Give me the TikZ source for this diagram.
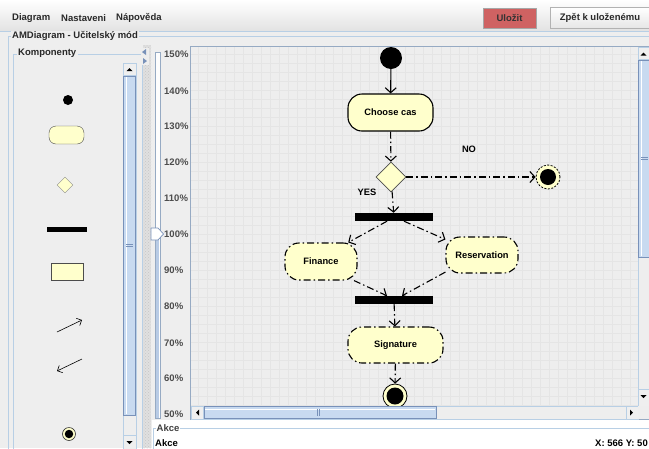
\documentclass[tikz,border=0pt]{standalone}
\usepackage{fontspec}
\setmainfont{Liberation Sans}
\usetikzlibrary{arrows.meta,shapes.geometric,patterns}
\definecolor{bg}{RGB}{238,238,238}
\definecolor{nodefill}{RGB}{255,255,204}
\definecolor{gridc}{RGB}{229,229,229}
\definecolor{bordc}{RGB}{184,207,229}
\definecolor{frame}{RGB}{150,170,195}
\definecolor{thumbc}{RGB}{200,218,240}
\definecolor{thumbb}{RGB}{120,145,185}
\definecolor{savec}{RGB}{207,98,98}
\definecolor{txt}{RGB}{40,40,40}
\begin{document}
\begin{tikzpicture}[x=1pt,y=-1pt,
  myui/.style={font=\fontsize{9.5}{11}\selectfont\bfseries, text=txt, inner sep=0pt},
  mylbl/.style={font=\fontsize{9.3}{11}\selectfont\bfseries, text=black, inner sep=0pt},
  dashdot/.style={dash pattern=on 7pt off 3pt on 1.5pt off 3pt},
  act/.style={draw=black, line width=1.1pt, fill=nodefill, rounded corners=14pt, mylbl, minimum height=37pt},
  flow/.style={line width=1.1pt, dashdot, -{Straight Barb[length=5pt,width=11pt]}},
  forkbar/.style={fill=black, minimum width=78pt, minimum height=8pt, inner sep=0pt},
  blackdot/.style={circle, fill=black, inner sep=0pt},
  thumb/.style={draw=thumbb, fill=thumbc, line width=.6pt},
  sbtrack/.style={draw=bordc, fill=bg, line width=.6pt},
  sbbtn/.style={draw=bordc, fill=bg!95!white, line width=.6pt},
  tri/.style={fill=black}
]
\useasboundingbox (0,0) rectangle (649,448);
% background
\fill[bg] (0,0) rectangle (649,448);
\shade[top color=white, bottom color=bg!95!black] (0,0) rectangle (649,31);
\draw[bordc, line width=.8pt] (0,31.5) -- (649,31.5);

% menu
\node[myui, anchor=west] (mDiagram) at (12,18) {Diagram};
\node[myui, anchor=west] (mNast) at (61,18) {Nastaveni};
\node[myui, anchor=west] (mNap) at (116,18) {Nápověda};
\node[myui, draw=gray!70, fill=savec, minimum width=53pt, minimum height=20pt, text=black!80] (bSave) at (509.5,18) {Uložit};
\node[myui, draw=gray!60, top color=white, bottom color=gray!20, minimum width=100pt, minimum height=21pt] (bBack) at (600,18) {Zpět k uloženému};

% AMDiagram titled border
\draw[bordc, line width=.8pt] (8,460) -- (8,36) -- (660,36);
\node[myui, fill=bg, inner xsep=1.5pt, anchor=west] (tAM) at (10.5,36) {AMDiagram - Učitelský mód};

% Komponenty panel
\draw[bordc, line width=.8pt] (13,460) -- (13,54) -- (142,54) -- (142,460);
\node[myui, fill=bg, inner xsep=1.5pt, anchor=west] (tKomp) at (16.5,53.5) {Komponenty};

% component palette
\node[blackdot, minimum size=10pt] (cdot) at (68,100) {};
\node[draw=black!70, fill=nodefill, rounded corners=7pt, minimum width=35pt, minimum height=18pt, inner sep=0pt] (cact) at (66.5,135) {};
\node[diamond, draw=black!45, fill=nodefill, minimum width=16pt, minimum height=16pt, inner sep=0pt] (cdec) at (65,185) {};
\node[fill=black, minimum width=40pt, minimum height=5pt, inner sep=0pt] (cbar) at (67,229) {};
\node[draw=black!70, fill=nodefill, minimum width=32pt, minimum height=17pt, inner sep=0pt] (crect) at (67,271.5) {};
\coordinate (ca1s) at (57,332); \coordinate (ca1e) at (82,320);
\draw[line width=.6pt, -{Straight Barb[length=4pt,width=8pt]}] (ca1s) -- (ca1e);
\coordinate (ca2s) at (82,359); \coordinate (ca2e) at (57,371);
\draw[line width=.6pt, -{Straight Barb[length=4pt,width=8pt]}] (ca2s) -- (ca2e);
\node[circle, draw=black!80, fill=nodefill, minimum size=13pt, inner sep=0pt, line width=.6pt] (cfin) at (69,434) {};
\node[blackdot, minimum size=8.5pt] (cfinIn) at (cfin) {};

% palette scrollbar
\draw[sbtrack] (123,63) rectangle (136,452);
\draw[sbbtn] (123,63) rectangle (136,75);
\fill[tri] (126.5,71) -- (132.5,71) -- (129.5,68) -- cycle;
\draw[thumb] (123.5,76) rectangle (135.5,415);
\draw[white, line width=1pt] (126,77) -- (126,414);
\draw[thumbb] (126,244) -- (133,244) (126,246.5) -- (133,246.5);
\draw[sbbtn] (123,435) rectangle (136,452);
\fill[tri] (126.5,441) -- (132.5,441) -- (129.5,444) -- cycle;

% splitter
\fill[bg!94!black] (143,45) rectangle (151,448);
\fill[pattern=crosshatch dots, pattern color=gray!45] (143,45) rectangle (151,448);
\fill[bg] (141,48) rectangle (149,65);
\fill[thumbb] (142,52) -- (146,49) -- (146,55) -- cycle;
\fill[thumbb] (147,61) -- (143,58) -- (143,64) -- cycle;

% zoom slider
\draw[frame, fill=white!90!bg, line width=.6pt] (155,52) rectangle (160,418);
\fill[thumbc!80!thumbb] (156,234) rectangle (159,417.5);
\draw[thumbb, fill=white, line width=.7pt] (151,228) -- (158,228) -- (163.5,234) -- (158,240) -- (151,240) -- cycle;
\foreach \p/\yy in {150/54,140/91,130/126,120/162,110/198,100/234,90/270,80/306,70/343,60/378,50/414}{
  \node[myui, text=black!70, anchor=west] (z\p) at (164,\yy) {\p\%};
}

% canvas
\fill[bg] (190,46) rectangle (649,419);
\begin{scope}
\clip (190.5,47) rectangle (638,406);
\draw[gridc, line width=.45pt] (180,40) grid[step=9pt] (640,410);

\node[blackdot, minimum size=22pt] (start) at (391,58) {};
\node[act, solid, minimum width=85pt] (choose) at (390.5,112.5) {Choose cas};
\node[diamond, draw=black!70, line width=.8pt, fill=nodefill, minimum width=30pt, minimum height=30pt, inner sep=0pt] (dec) at (391,177) {};
\node[circle, draw=black, dash pattern=on 2pt off 1.5pt, line width=.8pt, fill=nodefill, minimum size=24pt, inner sep=0pt] (endNo) at (548,177) {};
\node[blackdot, minimum size=16pt] (endNoIn) at (endNo) {};
\node[mylbl] (lNo) at (469,149.5) {NO};
\node[mylbl] (lYes) at (367,192.5) {YES};
\node[forkbar] (fork1) at (394,217) {};
\node[act, dashdot, minimum width=72pt] (fin) at (321,261.5) {Finance};
\node[act, dashdot, minimum width=72pt, minimum height=36pt] (res) at (482,255) {Reservation};
\node[forkbar] (fork2) at (394,300) {};
\node[act, dashdot, minimum width=95pt, minimum height=36pt] (sig) at (395.5,345) {Signature};
\node[circle, draw=black, line width=.8pt, fill=nodefill, minimum size=24pt, inner sep=0pt] (endFin) at (395,396) {};
\node[blackdot, minimum size=17pt] (endFinIn) at (endFin) {};

\draw[line width=1.1pt, -{Straight Barb[length=5pt,width=11pt]}] (start) -- (choose);
\draw[flow] (choose) -- (dec);
\draw[flow] (dec) -- (endNo);
\draw[flow] (dec) -- (fork1);
\draw[flow] ([xshift=-7pt]fork1.south) -- (fin.35);
\draw[flow] ([xshift=10pt]fork1.south) -- (res.157);
\draw[flow] (fin.-30) -- ([xshift=-7pt]fork2.north);
\draw[flow] (res.205) -- ([xshift=8pt]fork2.north);
\draw[flow] (fork2) -- (sig);
\draw[flow] (sig) -- (endFin);
\end{scope}
\draw[frame, line width=.7pt] (190,46) rectangle (660,419);

% right scrollbar
\draw[sbtrack] (638,47) rectangle (652,406);
\draw[sbbtn] (638,47) rectangle (652,59);
\fill[tri] (640.5,55.5) -- (646.5,55.5) -- (643.5,52.5) -- cycle;
\draw[thumb] (638.5,60) rectangle (651.5,257);
\draw[white, line width=1pt] (641,61) -- (641,256);
\draw[thumbb] (641,157) -- (648,157) (641,159.5) -- (648,159.5);
\draw[sbbtn] (638,389) rectangle (652,406);
\fill[tri] (640.5,395) -- (646.5,395) -- (643.5,398) -- cycle;

% bottom scrollbar
\draw[sbtrack] (191,406) rectangle (638,419);
\draw[sbbtn] (191,406) rectangle (203,419);
\fill[tri] (199,409.5) -- (199,415.5) -- (196,412.5) -- cycle;
\draw[thumb] (204,406.5) rectangle (436,418.5);
\draw[white, line width=1pt] (205,409) -- (435,409);
\draw[thumbb] (317,409) -- (317,416) (319.5,409) -- (319.5,416);
\draw[sbbtn] (626,406) rectangle (638,419);
\fill[tri] (630,409.5) -- (630,415.5) -- (633,412.5) -- cycle;
\fill[bg] (638.4,406.4) rectangle (649,418.6);

% bottom Akce area
\fill[white] (152,419.5) rectangle (649,448);
\draw[bordc, line width=.8pt] (153.5,450) -- (153.5,428) -- (660,428);
\node[myui, fill=white, inner xsep=1pt, anchor=west, text=black!75] (tAkce) at (155.5,428) {Akce};
\node[myui, anchor=west, text=black] (lAkce) at (155,443) {Akce};
\node[myui, anchor=east, text=black] (lXY) at (648,443) {X: 566 Y: 50};
\end{tikzpicture}
\end{document}
